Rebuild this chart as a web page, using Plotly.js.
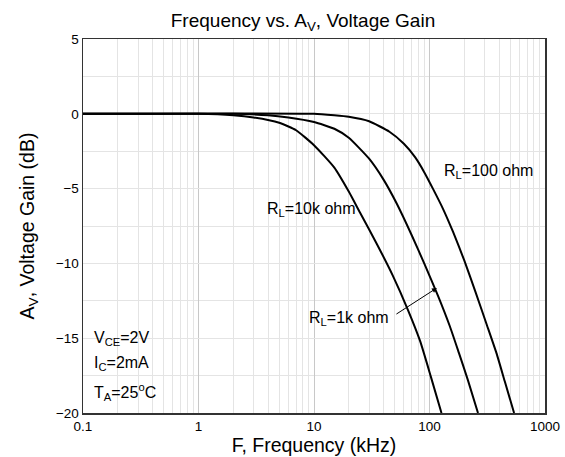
<!DOCTYPE html>
<html>
<head>
<meta charset="utf-8">
<script src="https://cdn.plot.ly/plotly-3.0.1.min.js"></script>
<style>html,body{margin:0;padding:0;background:#fff;}#chart{width:565px;height:457px;}</style>
</head>
<body>
<div id="chart"></div>
<script>
// ---- data (frequency in kHz, gain in dB) ----
var freq10k = [0.1, 1, 2, 3, 5, 7, 10, 15, 20, 25, 35, 48, 65, 83, 103, 127];
var gain10k = [0, 0, -0.1, -0.25, -0.6, -1.1, -2.1, -3.6, -5.2, -6.6, -8.7, -10.8, -13.1, -15.2, -17.6, -20];

var freq1k = [0.1, 2, 4, 6, 10, 15, 20, 30, 40, 52, 70, 90, 119, 150, 180, 215, 263];
var gain1k = [0, 0, -0.1, -0.25, -0.55, -1.0, -1.6, -3.0, -4.4, -6.0, -8.1, -10.0, -12.2, -14.2, -16.0, -17.8, -20];

var freq100 = [0.1, 10, 15, 20, 30, 45, 60, 75, 90, 107, 130, 160, 200, 250, 310, 380, 449, 540];
var gain100 = [0, 0, -0.1, -0.2, -0.5, -1.2, -2.0, -2.9, -3.9, -5.0, -6.3, -7.9, -9.8, -11.9, -14.0, -16.0, -17.9, -20];

var xMajorTicks = [0.1, 1, 10, 100, 1000];
var xTickLabels = ['0.1', '1', '10', '100', '1000'];
var xMinorTicks = [];
[0.1, 1, 10, 100].forEach(function (d) { for (var k = 2; k <= 9; k++) xMinorTicks.push(+(d * k).toPrecision(3)); });
var yTicks = [5, 0, -5, -10, -15, -20];

var seriesLabels = ['R<sub>L</sub>=10k ohm', 'R<sub>L</sub>=1k ohm', 'R<sub>L</sub>=100 ohm'];
var conditionLabels = ['V<sub>CE</sub>=2V', 'I<sub>C</sub>=2mA', 'T<sub>A</sub>=25<sup>o</sup>C'];

var FONT = 'Liberation Sans, Arial, sans-serif';
function lg(v) { return Math.log10(v); }

var lineStyle = {color: '#000', width: 2, shape: 'spline', smoothing: 0.5};
var traces = [
  {x: freq10k, y: gain10k, type: 'scatter', mode: 'lines', line: lineStyle, hoverinfo: 'skip'},
  {x: freq1k, y: gain1k, type: 'scatter', mode: 'lines', line: lineStyle, hoverinfo: 'skip'},
  {x: freq100, y: gain100, type: 'scatter', mode: 'lines', line: lineStyle, hoverinfo: 'skip'}
];

var ann = [];
var txtFont = {family: FONT, size: 16, color: '#000'};
ann.push({x: lg(9.6), y: -6.43, xref: 'x', yref: 'y', text: seriesLabels[0], showarrow: false, font: txtFont});
ann.push({x: lg(20.1), y: -13.65, xref: 'x', yref: 'y', text: seriesLabels[1], showarrow: false, font: txtFont});
ann.push({x: lg(327), y: -3.89, xref: 'x', yref: 'y', text: seriesLabels[2], showarrow: false, font: txtFont});
// arrow to the 1k curve
ann.push({x: lg(116), y: -11.64, xref: 'x', yref: 'y', axref: 'x', ayref: 'y', ax: lg(50.2), ay: -13.45,
          text: '', showarrow: true, arrowhead: 2, arrowsize: 1, arrowwidth: 1, arrowcolor: '#000'});
var condY = [-15.05, -16.66, -18.6];
conditionLabels.forEach(function (t, i) {
  ann.push({x: lg(0.12), y: condY[i], xref: 'x', yref: 'y', xanchor: 'left', text: t, showarrow: false, font: txtFont});
});

var layout = {
  width: 565, height: 457,
  margin: {l: 83, r: 20, t: 39, b: 44},
  paper_bgcolor: '#fff', plot_bgcolor: '#fff',
  showlegend: false,
  font: {family: FONT, size: 13.5, color: '#000'},
  title: {text: 'Frequency vs. A<sub>V</sub>, Voltage Gain', font: {family: FONT, size: 19, color: '#000'},
          x: 303 / 565, xref: 'container', xanchor: 'center', y: 1 - 20 / 457, yref: 'container', yanchor: 'middle'},
  xaxis: {
    type: 'log', range: [-1, 3],
    tickmode: 'array', tickvals: xMajorTicks, ticktext: xTickLabels,
    ticks: '', showgrid: true, gridcolor: '#c8c8c8', gridwidth: 1,
    minor: {tickmode: 'array', tickvals: xMinorTicks, showgrid: true, gridcolor: '#e4e4e4', gridwidth: 1, ticks: ''},
    showline: true, mirror: true, linecolor: '#333', linewidth: 1.5,
    zeroline: false,
    tickfont: {family: FONT, size: 13.5, color: '#000'},
    title: {text: 'F, Frequency (kHz)', font: {family: FONT, size: 19.5, color: '#000'}, standoff: 1}
  },
  yaxis: {
    range: [-20, 5],
    tickmode: 'array', tickvals: yTicks,
    ticks: '', showgrid: true, gridcolor: '#e4e4e4', gridwidth: 1,
    minor: {dtick: 2.5, showgrid: true, gridcolor: '#e4e4e4', gridwidth: 1, ticks: ''},
    showline: true, mirror: true, linecolor: '#333', linewidth: 1.5,
    zeroline: false,
    tickfont: {family: FONT, size: 13.5, color: '#000'},
    title: {text: 'A<sub>V</sub>, Voltage Gain (dB)', font: {family: FONT, size: 19.5, color: '#000'}, standoff: 16}
  },
  shapes: [
    {type: 'rect', xref: 'x', yref: 'y', x0: -0.995, x1: lg(0.5), y0: -19.93, y1: -13.8,
     fillcolor: '#fff', line: {width: 0}, layer: 'above'}
  ],
  annotations: ann
};

Plotly.newPlot('chart', traces, layout, {staticPlot: true, displayModeBar: false});
</script>
</body>
</html>
